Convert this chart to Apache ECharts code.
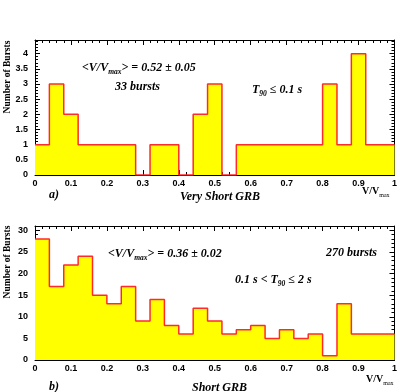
<!DOCTYPE html>
<html>
<head>
<meta charset="utf-8">
<script src="https://cdn.jsdelivr.net/npm/echarts@6/dist/echarts.min.js"></script>
<style>html,body{margin:0;padding:0;background:#fff}#c{width:400px;height:392px}</style>
</head>
<body>
<div id="c"></div>
<script>
// Bin width of V/Vmax histograms (25 bins from 0 to 1)
const binWidth = 0.04;
// a) Very Short GRB (T90 <= 0.1 s), 33 bursts
const veryShortCounts = [1,3,2,1,1,1,1,0,1,1,0,2,3,0,1,1,1,1,1,1,3,1,4,1,1];
// b) Short GRB (0.1 s < T90 <= 2 s), 270 bursts
const shortCounts = [28,17,22,24,15,13,17,9,14,8,6,12,9,6,7,8,5,7,5,6,1,13,6,6,6];
const topAnnot = ['<V/V', 'max', '> = 0.52 ± 0.05'];
const bottomAnnot = ['<V/V', 'max', '> = 0.36 ± 0.02'];

function stepData(counts){
  const d = counts.map((v,i)=>[+(i*binWidth).toFixed(4), v]);
  d.push([+(counts.length*binWidth).toFixed(4), counts[counts.length-1]]);
  return d;
}

const chart = echarts.init(document.getElementById('c'), null, {renderer:'canvas'});
const serif = '"Liberation Serif","DejaVu Serif",serif';
const sans = '"Liberation Sans","DejaVu Sans",sans-serif';
const axisLine = {show:true, onZero:false, lineStyle:{color:'#000', width:1}};

function xAx(grid, pos, labels){
  return {type:'value', gridIndex:grid, position:pos, min:0, max:1, interval:0.1,
    axisLine, splitLine:{show:false},
    axisTick:{show:true, inside:true, length:5, lineStyle:{color:'#000'}},
    minorTick:{show:true, splitNumber:5, length:3, lineStyle:{color:'#000'}},
    axisLabel:{show:labels, margin:4, color:'#000', fontFamily:sans, fontWeight:'bold', fontSize:9,
      formatter:v=> v===0?'0': (v===1?'1':String(+v.toFixed(1)))}};
}
function yAx(grid, pos, labels, max, interval){
  return {type:'value', gridIndex:grid, position:pos, min:0, max, interval,
    axisLine, splitLine:{show:false},
    axisTick:{show:true, inside:true, length:5, lineStyle:{color:'#000'}},
    minorTick:{show:true, splitNumber:5, length:3, lineStyle:{color:'#000'}},
    axisLabel:{show:labels, margin:7, color:'#000', fontFamily:sans, fontWeight:'bold', fontSize:9, showMaxLabel:false}};
}
function hist(xi, yi, counts){
  return {type:'line', xAxisIndex:xi, yAxisIndex:yi, data:stepData(counts), step:'end',
    symbol:'none', lineStyle:{color:'#ff2a2a', width:1.5},
    areaStyle:{color:'#ffff00', opacity:1, origin:0}, animation:false, z:1};
}
const tStyle = {fontFamily:serif, fontWeight:'bold', fontStyle:'italic', fontSize:12, fill:'#000'};
const richDef = {a:{fontFamily:serif, fontWeight:'bold', fontStyle:'italic', fontSize:12, lineHeight:14, verticalAlign:'bottom'},
                 s:{fontFamily:serif, fontWeight:'bold', fontStyle:'italic', fontSize:7.5, lineHeight:8, verticalAlign:'bottom', padding:[0,0,-2,0]}};
function richText(x, y, parts, extra){
  return {type:'text', x, y, style:Object.assign({}, tStyle, {
    text:'{a|'+parts[0]+'}{s|'+parts[1]+'}{a|'+parts[2]+'}', rich:richDef}, extra||{})};
}
function txt(x, y, text, extra){
  return {type:'text', x, y, style:Object.assign({}, tStyle, {text}, extra||{})};
}
const axRich = {a:{fontFamily:serif, fontSize:10, fontWeight:'bold', lineHeight:12, verticalAlign:'bottom'},
                s:{fontFamily:serif, fontSize:6, lineHeight:6, verticalAlign:'bottom', padding:[0,0,-2,0]}};

chart.setOption({
  animation:false,
  backgroundColor:'#fff',
  grid:[
    {left:35, top:40, right:3, height:135},
    {left:35, top:226, right:3, height:134}
  ],
  xAxis:[xAx(0,'bottom',true), xAx(0,'top',false), xAx(1,'bottom',true), xAx(1,'top',false)],
  yAxis:[yAx(0,'left',true,4.45,0.5), yAx(0,'right',false,4.45,0.5), yAx(1,'left',true,31,5), yAx(1,'right',false,31,5)],
  series:[hist(0,0,veryShortCounts), hist(2,2,shortCounts)],
  graphic:[
    txt(8, 77, 'Number of Bursts', {fontStyle:'normal', fontSize:9.5, align:'center', verticalAlign:'middle'}),
    txt(8, 262, 'Number of Bursts', {fontStyle:'normal', fontSize:9.5, align:'center', verticalAlign:'middle'}),
    richText(82, 60, topAnnot),
    txt(115, 81, '33 bursts'),
    richText(252, 82, ['T', '90', ' ≤ 0.1 s']),
    txt(49, 189, 'a)'),
    txt(180, 191, 'Very Short GRB'),
    {type:'text', x:362, y:184, style:{text:'{a|V/V}{s|max}', rich:axRich}},
    richText(108, 246, bottomAnnot),
    txt(326, 247, '270 bursts'),
    richText(235, 272, ['0.1 s < T', '90', ' ≤ 2 s']),
    txt(49, 381, 'b)'),
    txt(192, 382, 'Short GRB'),
    {type:'text', x:366, y:372, style:{text:'{a|V/V}{s|max}', rich:axRich}}
  ]
});
// rotate y titles
const opt = chart.getOption();
opt.graphic[0].elements[0].rotation = Math.PI/2;
opt.graphic[0].elements[1].rotation = Math.PI/2;
chart.setOption({graphic:opt.graphic});
</script>
</body>
</html>
